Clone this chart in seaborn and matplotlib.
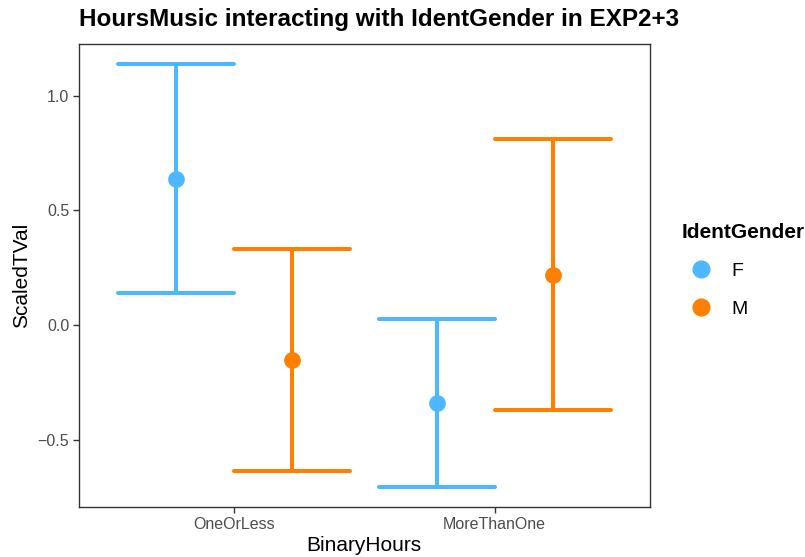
import numpy as np
import pandas as pd
import seaborn as sns
import matplotlib.pyplot as plt

# Group means with their interval bounds
hours = ["OneOrLess", "MoreThanOne"]
genders = ["F", "M"]
mean_f = [0.637, -0.339]
lower_f = [0.140, -0.706]
upper_f = [1.139, 0.027]
mean_m = [-0.152, 0.219]
lower_m = [-0.634, -0.372]
upper_m = [0.332, 0.810]
y_ticks = [-0.5, 0.0, 0.5, 1.0]
y_tick_labels = ["\u22120.5", "0.0", "0.5", "1.0"]

palette = {"F": "#4DB8FF", "M": "#FF7F00"}

# Long table: lower, mean, upper per cell; the median recovers the mean and
# the interval is the min/max span.
rows = []
for g, lo, mu, hi in [("F", lower_f, mean_f, upper_f), ("M", lower_m, mean_m, upper_m)]:
    for i, h in enumerate(hours):
        for v in (lo[i], mu[i], hi[i]):
            rows.append({"BinaryHours": h, "IdentGender": g, "ScaledTVal": v})
df = pd.DataFrame(rows)

sns.set_theme(style="white")
plt.rcParams["font.family"] = ["Liberation Sans", "DejaVu Sans"]
plt.rcParams["text.color"] = "black"

fig = plt.figure(figsize=(8.05, 5.57), dpi=100)
ax = fig.add_axes([0.098, 0.090, 0.709, 0.831])

sns.pointplot(
    data=df, x="BinaryHours", y="ScaledTVal", hue="IdentGender",
    order=hours, hue_order=genders, palette=palette,
    estimator="median", errorbar=lambda v: (v.min(), v.max()),
    dodge=0.445, capsize=0.445, linestyles="none", markers="o",
    markersize=10, err_kws={"linewidth": 2.9}, ax=ax,
)

ax.set_xlim(-0.594, 1.594)
ax.set_ylim(-0.792, 1.225)
ax.set_yticks(y_ticks)
ax.set_yticklabels(y_tick_labels)

for s in ax.spines.values():
    s.set_visible(True)
    s.set_color("#333333")
    s.set_linewidth(1.0)
ax.tick_params(axis="both", which="major", direction="out", length=4, width=1,
               color="#333333", labelcolor="#4D4D4D", labelsize=11.5,
               bottom=True, left=True, pad=3)

ax.set_xlabel("BinaryHours", fontsize=15, color="black", labelpad=3)
ax.set_ylabel("ScaledTVal", fontsize=15, color="black", labelpad=5)
ax.set_title("HoursMusic interacting with IdentGender in EXP2+3",
             fontsize=17.5, fontweight="bold", loc="left", pad=13, x=0.0,
             color="black")

sns.move_legend(ax, loc="upper left", bbox_to_anchor=(1.042, 0.63),
                frameon=False, title="IdentGender", fontsize=14,
                title_fontsize=15, labelspacing=1.05, handletextpad=0.55,
                borderaxespad=0)
leg = ax.get_legend()
leg.get_title().set_fontweight("bold")
leg.get_title().set_color("black")
for t in leg.get_texts():
    t.set_color("black")
leg._legend_box.align = "left"
for h in leg.legend_handles:
    h.set_markersize(11)

fig.savefig("out.png", dpi=100)
